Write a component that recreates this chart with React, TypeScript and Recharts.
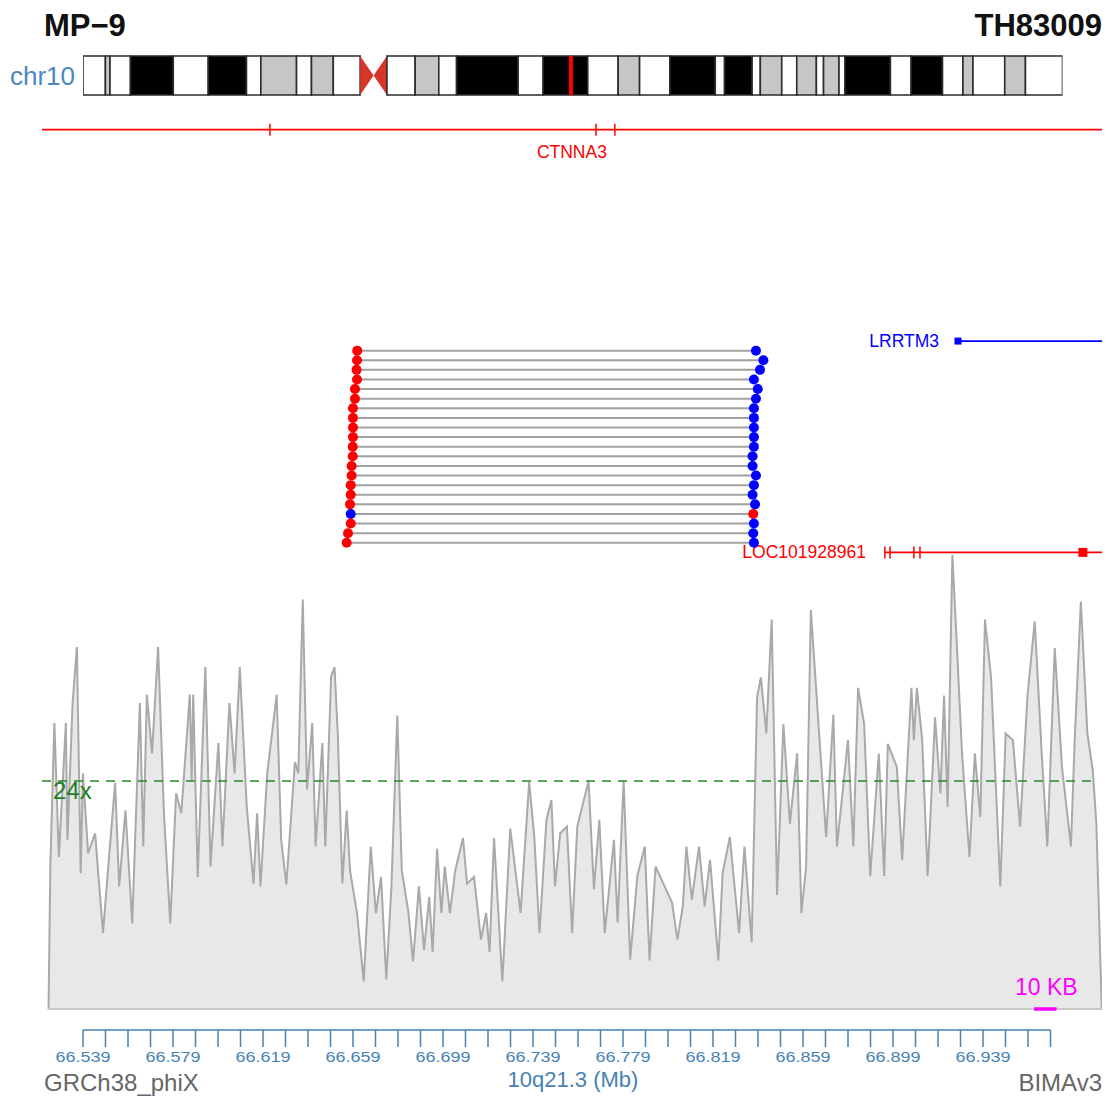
import React from 'react';
import { BarChart, Bar, ComposedChart, Area, Scatter, XAxis, YAxis, ReferenceLine } from 'recharts';

const FONT = '"Liberation Sans", Arial, Helvetica, sans-serif';
const STEEL = '#4682b4';
const W = 1110;
const H = 1104;

// ---- text ----
const SAMPLE_NAME = 'MP−9';
const SAMPLE_ID = 'TH83009';
const CHROM = 'chr10';
const GENOME = 'GRCh38_phiX';
const SOFTWARE = 'BIMAv3';
const AXIS_TITLE = '10q21.3 (Mb)';

// ---- ideogram (chr10, Mb) ----
const CHR_LEN = 133.8;
const MARKER_MB = 66.65;
const BAND_ENDS = [3.06, 3.69, 6.48, 12.33, 17.11, 22.33, 24.29, 29.17, 31.21, 34.19, 37.86, 41.52, 45.37, 48.6, 51.03, 59.44, 62.85, 68.95, 73.1, 76.03, 80.17, 86.37, 87.64, 91.4, 92.52, 95.45, 97.5, 100.18, 101.16, 103.27, 104.09, 110.29, 113.12, 117.41, 120.2, 121.57, 125.91, 128.74, 133.8];
const BAND_STAINS = ['gneg', 'gpos', 'gneg', 'gpos100', 'gneg', 'gpos100', 'gneg', 'gpos', 'gneg', 'gpos', 'gneg', 'acen', 'gneg', 'gpos', 'gneg', 'gpos100', 'gneg', 'gpos100', 'gneg', 'gpos', 'gneg', 'gpos100', 'gneg', 'gpos100', 'gneg', 'gpos', 'gneg', 'gpos', 'gneg', 'gpos', 'gneg', 'gpos100', 'gneg', 'gpos100', 'gneg', 'gpos', 'gneg', 'gpos', 'gneg'];
const STAIN_COLOR: Record<string, string> = { gneg: '#ffffff', gpos: '#c6c6c6', gpos100: '#000000', acen: '#d8352a' };

// ---- view region (Mb) ----
const VIEW_DOMAIN: [number, number] = [66.5208, 66.9919];

// ---- genes ----
const GENE_NAMES = ['CTNNA3', 'LRRTM3', 'LOC101928961'];
const GENE_START = [66.5208, 66.9279, 66.8954];
const GENE_END = [66.9919, 66.9919, 66.9919];
const GENE_LANE = [-22, 0, 22];
const GENE_COLOR = ['#ff0000', '#0000ff', '#ff0000'];
const GENE_LABEL_POS = [66.7563, 66.9279, 66.8954];
const EXON_GENE = [0, 0, 0, 1, 2, 2, 2, 2, 2];
const EXON_POS = [66.6221, 66.767, 66.7754, 66.9279, 66.8954, 66.8977, 66.9083, 66.911, 66.9834];
const EXON_KIND = ['tick', 'tick', 'tick', 'box', 'tick', 'tick', 'tick', 'tick', 'box'];

// ---- discordant read pairs ----
const READ_LEFT = [66.6609, 66.6608, 66.6606, 66.6608, 66.6599, 66.6599, 66.659, 66.659, 66.659, 66.659, 66.6589, 66.6589, 66.6584, 66.6584, 66.658, 66.658, 66.6577, 66.658, 66.658, 66.6568, 66.6562];
const READ_RIGHT = [66.8381, 66.8414, 66.8399, 66.8372, 66.8389, 66.8381, 66.8372, 66.8372, 66.8372, 66.8372, 66.8372, 66.8366, 66.8366, 66.8381, 66.8372, 66.8366, 66.8377, 66.8369, 66.8372, 66.8369, 66.8372];
const READ_LEFT_STRAND = ['+', '+', '+', '+', '+', '+', '+', '+', '+', '+', '+', '+', '+', '+', '+', '+', '+', '-', '+', '+', '+'];
const READ_RIGHT_STRAND = ['-', '-', '-', '-', '-', '-', '-', '-', '-', '-', '-', '-', '-', '-', '-', '-', '-', '+', '-', '-', '-'];
const STRAND_COLOR: Record<string, string> = { '+': '#ff0000', '-': '#0000ff' };

// ---- coverage ----
const COV_POS = [66.5237, 66.5245, 66.5263, 66.5283, 66.5314, 66.5321, 66.5344, 66.5363, 66.538, 66.539, 66.5413, 66.5444, 66.5479, 66.5505, 66.5533, 66.5551, 66.5579, 66.5609, 66.5643, 66.5658, 66.5674, 66.5697, 66.5724, 66.575, 66.5778, 66.5804, 66.5827, 66.5865, 66.5873, 66.588, 66.59, 66.5934, 66.5957, 66.5992, 66.601, 66.6041, 66.6064, 66.6087, 66.6118, 66.6148, 66.6164, 66.6179, 66.6209, 66.6251, 66.6271, 66.6294, 66.6332, 66.6347, 66.6367, 66.6386, 66.6409, 66.6424, 66.6454, 66.6467, 66.6493, 66.6508, 66.6523, 66.6543, 66.6562, 66.6577, 66.6608, 66.6638, 66.6669, 66.6692, 66.6715, 66.6738, 66.6761, 66.6787, 66.6807, 66.6837, 66.6857, 66.6883, 66.6906, 66.6929, 66.6944, 66.6964, 66.6983, 66.6998, 66.7021, 66.7044, 66.7079, 66.7097, 66.7128, 66.7159, 66.7182, 66.7197, 66.7217, 66.7254, 66.7289, 66.7319, 66.7335, 66.7373, 66.7396, 66.7419, 66.745, 66.7472, 66.7488, 66.7511, 66.7541, 66.7564, 66.7587, 66.7637, 66.7661, 66.7685, 66.7709, 66.775, 66.7766, 66.7793, 66.7822, 66.7854, 66.7887, 66.7908, 66.7935, 66.7975, 66.8008, 66.8032, 66.8056, 66.8072, 66.8096, 66.8128, 66.8153, 66.8177, 66.8214, 66.8233, 66.8265, 66.8306, 66.833, 66.8362, 66.8386, 66.8403, 66.8427, 66.8451, 66.8475, 66.8503, 66.8532, 66.8564, 66.8583, 66.8604, 66.8625, 66.8661, 66.8693, 66.8725, 66.8741, 66.879, 66.8814, 66.8835, 66.8862, 66.8889, 66.8927, 66.8951, 66.8967, 66.9007, 66.9031, 66.9072, 66.9083, 66.9096, 66.912, 66.9144, 66.9177, 66.9201, 66.9217, 66.9233, 66.9254, 66.9273, 66.9297, 66.933, 66.9354, 66.9378, 66.9399, 66.9426, 66.9467, 66.9491, 66.9523, 66.9555, 66.9588, 66.962, 66.9652, 66.9676, 66.9709, 66.9741, 66.9781, 66.9797, 66.9825, 66.9854, 66.9878, 66.9894, 66.9918];
const COV_VAL = [0, 15.0, 30.1, 16.0, 30.1, 17.8, 32.2, 38.1, 14.3, 24.8, 16.4, 18.5, 8.0, 15.7, 23.8, 12.9, 20.9, 9.0, 32.2, 17.1, 33.1, 26.9, 38.1, 20.6, 9.0, 22.7, 20.6, 33.1, 24.0, 33.1, 13.9, 36.0, 15.0, 28.0, 17.1, 32.2, 24.8, 36.0, 21.3, 13.2, 20.6, 12.9, 24.8, 33.1, 17.8, 13.1, 26.0, 24.8, 43.1, 23.1, 30.1, 17.1, 28.0, 17.1, 35.0, 36.0, 28.7, 13.2, 20.9, 14.6, 10.1, 2.9, 17.1, 10.1, 13.9, 3.1, 12.9, 30.9, 14.6, 10.1, 5.0, 12.9, 6.2, 11.8, 6.0, 16.9, 10.1, 15.0, 10.1, 14.5, 18.0, 13.2, 13.9, 7.3, 10.1, 6.0, 18.0, 2.9, 19.0, 13.2, 10.1, 23.9, 18.1, 8.0, 19.9, 22.0, 12.9, 18.5, 19.2, 8.0, 19.2, 24.0, 12.6, 19.9, 8.0, 17.8, 9.1, 24.0, 5.2, 14.0, 17.1, 5.1, 15.0, 12.9, 11.2, 7.3, 10.8, 17.1, 11.5, 17.1, 10.8, 15.7, 5.1, 14.3, 18.1, 8.0, 17.1, 7.0, 32.8, 34.9, 29.0, 41.0, 12.0, 30.0, 19.5, 26.9, 10.1, 15.0, 42.0, 29.3, 18.1, 31.0, 17.1, 28.3, 17.1, 33.8, 30.0, 14.0, 26.9, 14.0, 27.9, 25.5, 15.7, 33.8, 28.3, 33.8, 28.3, 14.0, 30.7, 22.7, 33.0, 21.3, 47.8, 38.7, 26.9, 16.0, 26.9, 20.2, 41.0, 34.9, 12.9, 29.0, 28.3, 19.2, 33.0, 40.8, 26.5, 17.1, 38.0, 25.5, 17.1, 27.9, 42.9, 29.0, 25.1, 19.5, 0];
const COV_MAX_AXIS = 50;
const MEAN_COV = 24;
const MEAN_LABEL = '24x';
const MEAN_LINE_END = 66.9888;
const SCALE_START = 66.9617;
const SCALE_LEN_MB = 0.01;
const SCALE_LABEL = '10 KB';

// ---- ruler ----
const RULER_TICKS = [66.539, 66.549, 66.559, 66.569, 66.579, 66.589, 66.599, 66.609, 66.619, 66.629, 66.639, 66.649, 66.659, 66.669, 66.679, 66.689, 66.699, 66.709, 66.719, 66.729, 66.739, 66.749, 66.759, 66.769, 66.779, 66.789, 66.799, 66.809, 66.819, 66.829, 66.839, 66.849, 66.859, 66.869, 66.879, 66.889, 66.899, 66.909, 66.919, 66.929, 66.939, 66.949, 66.959, 66.969];
const TICK_LABELS = ['66.539', '66.579', '66.619', '66.659', '66.699', '66.739', '66.779', '66.819', '66.859', '66.899', '66.939'];

// ---------- shapes ----------
const Bowtie = (p: any) => {
  const { x, y, width: w, height: h, fill } = p;
  if (w == null || h == null) return <g />;
  const d = `M${x},${y} L${x + w / 2},${y + h / 2} L${x},${y + h} Z M${x + w},${y} L${x + w / 2},${y + h / 2} L${x + w},${y + h} Z`;
  return <path d={d} fill={fill} stroke="none" />;
};

const ReadEnd = (p: any) => {
  if (p.cx == null || p.cy == null) return <g />;
  return <circle cx={p.cx} cy={p.cy} r={5} fill={STRAND_COLOR[p.payload.strand]} />;
};

const ExonShape = (p: any) => {
  if (p.cx == null || p.cy == null) return <g />;
  const c = p.payload.color;
  if (p.payload.kind === 'box') {
    const s = p.payload.gene === 1 ? 7 : 9;
    return <rect x={p.cx - s / 2} y={p.cy - s / 2} width={s} height={s} fill={c} />;
  }
  return <line x1={p.cx} x2={p.cx} y1={p.cy - 6} y2={p.cy + 6} stroke={c} strokeWidth={1.5} />;
};

const GeneLabel = (p: any) => {
  if (p.cx == null || p.cy == null) return <g />;
  const { name, color, gene } = p.payload;
  if (gene === 0) {
    return <text x={p.cx} y={p.cy + 28} textAnchor="middle" fill={color} fontSize={17.5} fontFamily={FONT}>{name}</text>;
  }
  return <text x={p.cx - 19} y={p.cy + 6} textAnchor="end" fill={color} fontSize={17.5} fontFamily={FONT}>{name}</text>;
};

const MeanLabel = (p: any) => {
  if (p.cx == null || p.cy == null) return <g />;
  return <text x={p.cx + 11} y={p.cy + 18} fill="#1f7f1f" fontSize={24} fontFamily={FONT}>{MEAN_LABEL}</text>;
};

const ScaleLabel = (p: any) => {
  if (p.cx == null || p.cy == null) return <g />;
  return <text x={p.cx + 1} y={p.cy - 14} textAnchor="middle" fill="#ff00ff" fontSize={23} fontFamily={FONT}>{SCALE_LABEL}</text>;
};

const RulerTick = (p: any) => {
  const label = Number(p.payload.value).toFixed(3);
  if (!TICK_LABELS.includes(label)) return <g />;
  return (
    <text x={p.x} y={p.y} dy={13} textAnchor="middle" fill={STEEL} fontSize={14.5} fontFamily={FONT} textLength={55} lengthAdjust="spacingAndGlyphs">
      {label}
    </text>
  );
};

// ---------- charts ----------
function Ideogram() {
  const row: Record<string, any> = { name: CHROM };
  BAND_ENDS.forEach((e, i) => {
    row['b' + i] = e - (i === 0 ? 0 : BAND_ENDS[i - 1]);
  });
  return (
    <BarChart layout="vertical" width={W} height={100} data={[row]} margin={{ top: 56, right: 47.5, bottom: 5, left: 83 }} barCategoryGap={0} barGap={0}>
      <XAxis type="number" domain={[0, CHR_LEN]} hide allowDataOverflow />
      <YAxis type="category" dataKey="name" hide />
      {BAND_STAINS.map((s, i) =>
        s === 'acen' ? (
          <Bar key={i} dataKey={'b' + i} stackId="chr" fill={STAIN_COLOR[s]} isAnimationActive={false} shape={Bowtie} />
        ) : (
          <Bar key={i} dataKey={'b' + i} stackId="chr" fill={STAIN_COLOR[s]} stroke="#2b2b2b" strokeWidth={1.6} isAnimationActive={false} />
        )
      )}
      <ReferenceLine x={MARKER_MB} stroke="#ff0000" strokeWidth={4} />
    </BarChart>
  );
}

function Tracks() {
  const exonPoints = EXON_POS.map((pos, i) => ({
    pos,
    row: GENE_LANE[EXON_GENE[i]],
    kind: EXON_KIND[i],
    gene: EXON_GENE[i],
    color: GENE_COLOR[EXON_GENE[i]],
  }));
  const labelPoints = GENE_NAMES.map((name, i) => ({ pos: GENE_LABEL_POS[i], row: GENE_LANE[i], name, gene: i, color: GENE_COLOR[i] }));
  const readRows = READ_LEFT.map((l, i) => [
    { pos: l, row: i + 1, strand: READ_LEFT_STRAND[i] },
    { pos: READ_RIGHT[i], row: i + 1, strand: READ_RIGHT_STRAND[i] },
  ]);
  return (
    <ComposedChart width={W} height={562} margin={{ top: 110.5, right: 8, bottom: 0, left: 42 }}>
      <XAxis type="number" dataKey="pos" domain={VIEW_DOMAIN} hide allowDataOverflow />
      <YAxis type="number" dataKey="row" domain={[-24, 23]} reversed hide allowDataOverflow />
      {GENE_NAMES.map((g, i) => (
        <ReferenceLine
          key={g}
          segment={[{ x: GENE_START[i], y: GENE_LANE[i] }, { x: GENE_END[i], y: GENE_LANE[i] }]}
          stroke={GENE_COLOR[i]}
          strokeWidth={1.8}
          ifOverflow="visible"
        />
      ))}
      <Scatter data={exonPoints} dataKey="row" shape={ExonShape} isAnimationActive={false} />
      <Scatter data={labelPoints} dataKey="row" shape={GeneLabel} isAnimationActive={false} />
      {readRows.map((pts, i) => (
        <Scatter key={i} data={pts} dataKey="row" line={{ stroke: '#a0a0a0', strokeWidth: 2 }} shape={ReadEnd} isAnimationActive={false} />
      ))}
    </ComposedChart>
  );
}

function Coverage() {
  const data = COV_POS.map((pos, i) => ({ pos, cov: COV_VAL[i] }));
  return (
    <ComposedChart width={W} height={1020} data={data} margin={{ top: 1009 - COV_MAX_AXIS * 9.5, right: 8, bottom: 11, left: 42 }}>
      <XAxis type="number" dataKey="pos" domain={VIEW_DOMAIN} hide allowDataOverflow />
      <YAxis type="number" domain={[0, COV_MAX_AXIS]} hide allowDataOverflow />
      <Area type="linear" dataKey="cov" stroke="#a9a9a9" strokeWidth={2} fill="#e8e8e8" fillOpacity={1} isAnimationActive={false} dot={false} activeDot={false} />
      <ReferenceLine segment={[{ x: COV_POS[0], y: 0 }, { x: COV_POS[COV_POS.length - 1], y: 0 }]} stroke="#c8c8c8" strokeWidth={2} ifOverflow="visible" />
      <ReferenceLine
        segment={[{ x: VIEW_DOMAIN[0], y: MEAN_COV }, { x: MEAN_LINE_END, y: MEAN_COV }]}
        stroke="#228b22"
        strokeWidth={1.6}
        strokeDasharray="9 7"
        ifOverflow="visible"
      />
      <ReferenceLine
        segment={[{ x: SCALE_START, y: 0 }, { x: SCALE_START + SCALE_LEN_MB, y: 0 }]}
        stroke="#ff00ff"
        strokeWidth={3.5}
        ifOverflow="visible"
      />
      <Scatter data={[{ pos: VIEW_DOMAIN[0], cov: MEAN_COV }]} dataKey="cov" shape={MeanLabel} isAnimationActive={false} />
      <Scatter data={[{ pos: SCALE_START + SCALE_LEN_MB / 2, cov: 0 }]} dataKey="cov" shape={ScaleLabel} isAnimationActive={false} />
    </ComposedChart>
  );
}

function Ruler() {
  const data = RULER_TICKS.map((t) => ({ pos: t }));
  const last = RULER_TICKS[RULER_TICKS.length - 1];
  return (
    <ComposedChart width={W} height={84} data={data} margin={{ top: 0, right: W - 83 - (last - RULER_TICKS[0]) * 2250, bottom: 0, left: 83 }}>
      <XAxis
        type="number"
        dataKey="pos"
        domain={[RULER_TICKS[0], last]}
        ticks={RULER_TICKS}
        interval={0}
        height={74}
        tickSize={17}
        axisLine={{ stroke: STEEL, strokeWidth: 1.5 }}
        tickLine={{ stroke: STEEL, strokeWidth: 1.5 }}
        tick={RulerTick}
        allowDataOverflow
      />
      <YAxis type="number" domain={[0, 1]} hide />
    </ComposedChart>
  );
}

export default function App() {
  const abs = (top: number): React.CSSProperties => ({ position: 'absolute', left: 0, top });
  return (
    <div style={{ position: 'absolute', left: 0, top: 0, width: W, height: H, background: '#ffffff', overflow: 'hidden' }}>
      <div style={abs(0)}><Coverage /></div>
      <div style={abs(1020)}><Ruler /></div>
      <div style={abs(0)}><Tracks /></div>
      <div style={abs(0)}><Ideogram /></div>
      <svg width={W} height={H} style={{ position: 'absolute', left: 0, top: 0, pointerEvents: 'none' }}>
        <text x={44} y={36} fontFamily={FONT} fontWeight="bold" fontSize={31} fill="#111">{SAMPLE_NAME}</text>
        <text x={1102} y={36} textAnchor="end" fontFamily={FONT} fontWeight="bold" fontSize={31} fill="#111">{SAMPLE_ID}</text>
        <text x={10} y={85} fontFamily={FONT} fontSize={26} fill="#4a87c0">{CHROM}</text>
        <text x={44} y={1091} fontFamily={FONT} fontSize={24} fill="#666">{GENOME}</text>
        <text x={1102} y={1091} textAnchor="end" fontFamily={FONT} fontSize={24} fill="#666">{SOFTWARE}</text>
        <text x={573} y={1087} textAnchor="middle" fontFamily={FONT} fontSize={22} fill={STEEL}>{AXIS_TITLE}</text>
      </svg>
    </div>
  );
}
